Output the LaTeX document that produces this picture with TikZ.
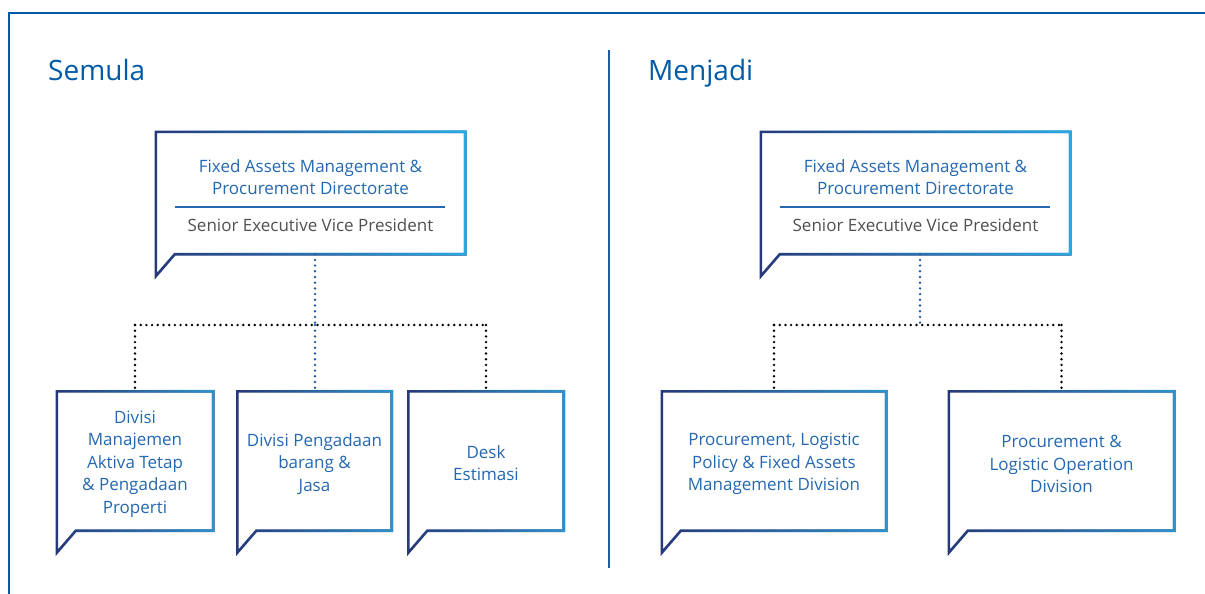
\documentclass[tikz,border=0pt]{standalone}
\usepackage{fontspec}
\setmainfont{Open Sans}
\usetikzlibrary{positioning,fadings}
\definecolor{frameblue}{RGB}{0,90,168}
\definecolor{txtblue}{RGB}{36,104,178}
\definecolor{txtgray}{RGB}{80,80,84}
\definecolor{navy}{RGB}{38,56,122}
\definecolor{skyhi}{RGB}{38,172,228}
\definecolor{skylo}{RGB}{48,148,204}
\definecolor{dotblue}{RGB}{30,92,164}
\newcommand\boxfont{\fontsize{17}{22.5}\selectfont}
\newcommand\headfont{\fontsize{28}{32}\selectfont}
% callout outline with a tail at the lower left, navy to #2
\newcommand\bubble[2]{%
  \draw[navy,outline] (#1.north west) -- (#1.north east) -- (#1.south east)
    -- ([xshift=19pt]#1.south west) -- ([yshift=-22pt]#1.south west) -- cycle;
  \draw[#2,outline,path fading=west] (#1.north west) -- (#1.north east) -- (#1.south east)
    -- ([xshift=19pt]#1.south west) -- ([yshift=-22pt]#1.south west) -- cycle;
}
\tikzset{
  outline/.style={line width=2.6pt,line join=miter},
  frame/.style={draw=none,inner sep=0pt},
  txt/.style={align=center,font=\boxfont,text=txtblue,inner sep=0pt},
  head/.style={anchor=base west,font=\headfont,text=frameblue,inner sep=0pt},
  dots/.style={line width=2.7pt,line cap=round,dash pattern=on 0pt off 5.7pt},
  bdots/.style={dots,draw=black},
  udots/.style={dots,draw=dotblue}
}
\begin{document}
\begin{tikzpicture}[x=1pt,y=-1pt]
\useasboundingbox (0,0) rectangle (1205,594);
\draw[frameblue,line width=2.6pt] (9,600) -- (9,13) -- (1210,13);
\draw[dotblue,line width=1.3pt] (609,50) -- (609,568);
\node[head] (semula) at (48,81) {Semula};
\node[head] (menjadi) at (648,81) {Menjadi};

% Semula
\node[frame,minimum width=309pt,minimum height=122pt] (dirL) at (310.5,193) {};
\node[txt] (dirLname) at (310.5,177) {Fixed Assets Management \&\\Procurement Directorate};
\draw[txtblue,line width=1.2pt] (175,207) -- (445,207);
\node[txt,text=txtgray] (dirLrole) at (310.5,225) {Senior Executive Vice President};
\node[frame,minimum width=156pt,minimum height=139pt] (divA) at (135,461) {};
\node[frame,minimum width=154pt,minimum height=139pt] (divB) at (314.5,461) {};
\node[frame,minimum width=155pt,minimum height=139pt] (divC) at (486,461) {};
\node[txt,yshift=-3pt] at (divA) {Divisi\\Manajemen\\Aktiva Tetap\\\& Pengadaan\\Properti};
\node[txt,yshift=-3pt] at (divB) {Divisi Pengadaan\\barang \&\\Jasa};
\node[txt,yshift=-2pt] at (divC) {Desk\\Estimasi};
\bubble{dirL}{skyhi}
\bubble{divA}{skylo}
\bubble{divB}{skylo}
\bubble{divC}{skylo}
\coordinate (jL) at (315,325);
\draw[udots] (dirL.south -| jL) -- (jL);
\draw[bdots] (divA.north |- jL) -- (divC.north |- jL);
\draw[udots] (jL) -- (divB.north -| jL);
\draw[bdots] (divA.north |- jL) -- (divA.north);
\draw[bdots] (divC.north |- jL) -- (divC.north);

% Menjadi
\node[frame,minimum width=309pt,minimum height=122pt] (dirR) at (915.5,193) {};
\node[txt] (dirRname) at (915.5,177) {Fixed Assets Management \&\\Procurement Directorate};
\draw[txtblue,line width=1.2pt] (780,207) -- (1050,207);
\node[txt,text=txtgray] (dirRrole) at (915.5,225) {Senior Executive Vice President};
\node[frame,minimum width=224pt,minimum height=139pt] (divD) at (774,461) {};
\node[frame,minimum width=225pt,minimum height=139pt] (divE) at (1061.5,461) {};
\node[txt,yshift=-3pt] at (divD) {Procurement, Logistic\\Policy \& Fixed Assets\\Management Division};
\node[txt,yshift=-3pt] at (divE) {Procurement \&\\Logistic Operation\\Division};
\bubble{dirR}{skyhi}
\bubble{divD}{skylo}
\bubble{divE}{skylo}
\coordinate (jR) at (920,325);
\draw[udots] (dirR.south -| jR) -- (jR);
\draw[bdots] (divD.north |- jR) -- (divE.north |- jR);
\draw[bdots] (divD.north |- jR) -- (divD.north);
\draw[bdots] (divE.north |- jR) -- (divE.north);
\end{tikzpicture}
\end{document}
